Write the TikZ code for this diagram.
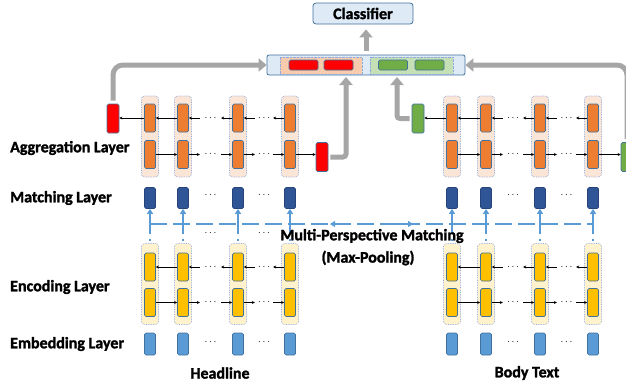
\documentclass[tikz,border=0pt]{standalone}
\usepackage{fontspec}
\setmainfont{Carlito}[BoldFeatures={FakeBold=1.6}]
\usetikzlibrary{arrows.meta,calc}
\definecolor{aggorange}{HTML}{ED7D31}
\definecolor{encyellow}{HTML}{FFC000}
\definecolor{cellline}{HTML}{41719C}
\definecolor{boxline}{HTML}{8FAADC}
\definecolor{aggfill}{HTML}{FBE5D6}
\definecolor{encfill}{HTML}{FFF2CC}
\definecolor{matchblue}{HTML}{2F5597}
\definecolor{embblue}{HTML}{5B9BD5}
\definecolor{outred}{HTML}{FF0000}
\definecolor{outgreen}{HTML}{70AD47}
\definecolor{arrgray}{HTML}{A6A6A6}
\definecolor{catfill}{HTML}{DEEBF7}
\definecolor{catred}{HTML}{F8CBAD}
\definecolor{catgreen}{HTML}{C5E0B4}
\begin{document}
\begin{tikzpicture}[x=1pt,y=-1pt,
    cell/.style={draw=cellline,line width=0.7pt,rounded corners=1.5pt,inner sep=0pt,minimum width=11pt,minimum height=28pt},
    aggcell/.style={cell,fill=aggorange},
    enccell/.style={cell,fill=encyellow},
    matchcell/.style={cell,fill=matchblue,draw=matchblue!80!black,minimum height=21pt},
    embcell/.style={cell,fill=embblue,minimum height=22pt},
    outcell/.style={cell,minimum width=12pt,minimum height=29pt},
    colbox/.style={draw=boxline,densely dotted,line width=0.7pt,rounded corners=3pt,inner sep=0pt,minimum width=17pt,minimum height=81pt},
    catcell/.style={cell,minimum width=29pt,minimum height=10pt},
    dots/.style={inner sep=0pt},
    sarr/.style={line width=0.5pt,-{Stealth[length=3pt,width=3pt]}},
    blueline/.style={draw=embblue,line width=1.8pt},
    bluearr/.style={blueline,-{Triangle[length=5pt,width=6pt]}},
    bigarr/.style={draw=arrgray,line width=5pt,-{Triangle[length=8pt,width=13pt]}},
    lbl/.style={inner sep=0pt,font=\bfseries\fontsize{16}{18}\selectfont}]
  \useasboundingbox (0,0) rectangle (626,383);
  % layer names
  \node[lbl,anchor=west] (l-agg) at (10,148) {Aggregation Layer};
  \node[lbl,anchor=west] (l-match) at (10,198) {Matching Layer};
  \node[lbl,anchor=west] (l-enc) at (10,287) {Encoding Layer};
  \node[lbl,anchor=west] (l-emb) at (10,344) {Embedding Layer};
  \node[lbl] (headline) at (220,373) {Headline};
  \node[lbl] (bodytext) at (527,373) {Body Text};
  % the two sides
  \foreach \s/\xa/\xb/\xc/\xd in {h/150/183/238/290,b/452/486/540/593}{
    \foreach \x [count=\i] in {\xa,\xb,\xc,\xd}{
      \node[colbox,fill=aggfill] (\s-ab-\i) at (\x,136.5) {};
      \node[aggcell] (\s-au-\i) at (\x,118) {};
      \node[aggcell] (\s-ad-\i) at (\x,154.5) {};
      \node[matchcell] (\s-m-\i) at (\x,198) {};
      \node[colbox,fill=encfill] (\s-eb-\i) at (\x,284) {};
      \node[enccell] (\s-eu-\i) at (\x,267) {};
      \node[enccell] (\s-ed-\i) at (\x,302.5) {};
      \node[embcell] (\s-e-\i) at (\x,344) {};
      \draw[bluearr,dash pattern=on 2pt off 5pt on 60pt,shorten <=2pt] (\s-eb-\i.north) -- (\s-m-\i.south);
    }
    \foreach \r in {a,e}{
      \draw[sarr] (\s-\r u-2.west) -- (\s-\r u-1.east);
      \draw[sarr] (\s-\r d-1.east) -- (\s-\r d-2.west);
      \foreach \p/\q in {2/3,3/4}{
        \path (\s-\r u-\p.east) -- (\s-\r u-\q.west) node[dots,midway] (\s-\r ud-\p) {$\cdots$};
        \draw[sarr] ($(\s-\r u-\p.east)+(11,0)$) -- (\s-\r u-\p.east);
        \draw[sarr] (\s-\r u-\q.west) -- ($(\s-\r u-\q.west)-(11,0)$);
        \path (\s-\r d-\p.east) -- (\s-\r d-\q.west) node[dots,midway] (\s-\r dd-\p) {$\cdots$};
        \draw[sarr] (\s-\r d-\p.east) -- ($(\s-\r d-\p.east)+(11,0)$);
        \draw[sarr] ($(\s-\r d-\q.west)-(11,0)$) -- (\s-\r d-\q.west);
      }
    }
    \foreach \p/\q in {2/3,3/4}{
      \node[dots] (\s-md-\p) at ($(\s-m-\p)!0.5!(\s-m-\q)+(0,-3)$) {$\cdots$};
      \node[dots] (\s-ed-\p) at ($(\s-e-\p)!0.5!(\s-e-\q)+(0,-2)$) {$\cdots$};
    }
  }
  \node[dots] (h-vd-2) at ($(h-md-2)+(0,38)$) {$\cdots$};
  \node[dots] (h-vd-3) at ($(h-md-3)+(0,38)$) {$\cdots$};
  % multi-perspective matching
  \coordinate (mp-l) at (150,224);
  \coordinate (mp-r) at (593,224);
  \draw[blueline,dash pattern=on 17pt off 6pt] (mp-l) -- (mp-r);
  \draw[bluearr] (348,224) -- (330,224);
  \draw[bluearr] (395,224) -- (413,224);
  \node[lbl] (mpm) at (372,236) {Multi-Perspective Matching};
  \node[lbl] (mpool) at (368,258) {(Max-Pooling)};
  % outputs of the aggregation layer
  \node[outcell,fill=outred] (h-out-b) at (113,118.5) {};
  \node[outcell,fill=outred] (h-out-f) at (322,157) {};
  \node[outcell,fill=outgreen] (b-out-b) at (418,118.5) {};
  \node[outcell,fill=outgreen] (b-out-f) at (627,157) {};
  \draw[sarr] (h-au-1.west) -- (h-au-1.west -| h-out-b.east);
  \draw[sarr] (h-ad-4.east) -- (h-ad-4.east -| h-out-f.west);
  \draw[sarr] (b-au-1.west) -- (b-au-1.west -| b-out-b.east);
  \draw[sarr] (b-ad-4.east) -- (b-ad-4.east -| b-out-f.west);
  % concatenation and classifier
  \node[draw=cellline,fill=catfill,line width=0.8pt,rounded corners=2pt,minimum width=198pt,minimum height=20pt,inner sep=0pt] (concat) at (366,65) {};
  \node[draw=boxline,densely dotted,fill=catred,minimum width=82pt,minimum height=17pt,inner sep=0pt] (cat-h) at (321,65.5) {};
  \node[draw=boxline,densely dotted,fill=catgreen,minimum width=83pt,minimum height=17pt,inner sep=0pt] (cat-b) at (411.5,65.5) {};
  \node[catcell,fill=outred] (cat-h1) at (303.5,65) {};
  \node[catcell,fill=outred] (cat-h2) at (338.5,65) {};
  \node[catcell,fill=outgreen] (cat-b1) at (393,65) {};
  \node[catcell,fill=outgreen] (cat-b2) at (429.5,65) {};
  \node[lbl,draw=cellline,fill=catfill,line width=0.8pt,rounded corners=3pt,minimum width=100pt,minimum height=21pt] (classifier) at (363,13.5) {Classifier};
  \coordinate (cat-in-h) at (346,77);
  \coordinate (cat-in-b) at (397,77);
  \draw[bigarr,rounded corners=10pt,shorten <=3pt] (h-out-b.north) |- (concat.west);
  \draw[bigarr,rounded corners=10pt,shorten <=3pt] (b-out-f.north) |- (concat.east);
  \draw[bigarr,rounded corners=3pt,shorten <=2pt] (h-out-f.east) -| (cat-in-h);
  \draw[bigarr,rounded corners=3pt,shorten <=2pt] (b-out-b.west) -| (cat-in-b);
  \draw[bigarr,shorten <=4pt,shorten >=5pt] (concat.north) -- (concat.north |- classifier.south);
\end{tikzpicture}
\end{document}
